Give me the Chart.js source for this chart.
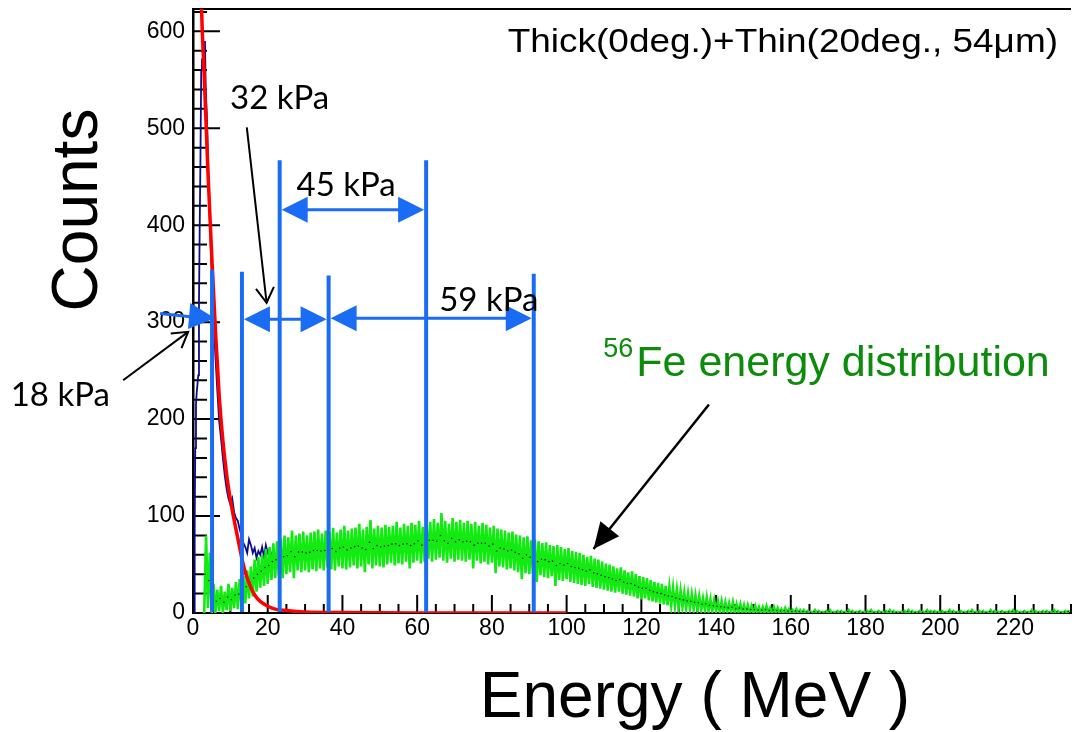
<!DOCTYPE html>
<html>
<head>
<meta charset="utf-8">
<title>Energy spectrum</title>
<script src="https://cdn.jsdelivr.net/npm/chart.js@4.4.1/dist/chart.umd.min.js"></script>
<style>
  body { margin: 0; background: #fff; }
  #wrap { width: 1075px; height: 732px; position: relative; }
</style>
</head>
<body>
<div id="wrap"><canvas id="spectrum"></canvas></div>
<script>
// axis ticks
var energyTicks = [0, 20, 40, 60, 80, 100, 120, 140, 160, 180, 200, 220];
var countTicks = [0, 100, 200, 300, 400, 500, 600];

// red fit curve
var fitEnergy = [1.9, 2.3, 3.0, 4.0, 5.0, 6.0, 7.0, 8.0, 9.0, 10.0, 11.0, 12.0, 13.0, 14.0, 15.0,
  16.0, 17.0, 18.0, 20.0, 22.0, 25.0, 30.0, 40.0, 60.0, 100.0];
var fitCounts = [700, 622, 555, 455, 370, 292, 225, 178, 143, 117, 96, 77, 58, 42, 31,
  22, 16, 12, 7, 4, 2.5, 1, 0.4, 0, 0];

// total spectrum (low energy part)
var totalEnergy = [0.3, 0.45, 0.6, 0.8, 1.0, 1.2, 1.4, 1.6, 1.8, 2.0, 2.2, 2.4, 2.6, 2.8, 3.0,
  3.2, 3.4, 3.7, 4.0, 4.5, 5.0, 5.5, 6.0, 6.5, 7.0, 7.5, 8.0, 8.5, 9.0, 9.5, 10.0, 10.5, 11.0,
  11.5, 12.0, 12.5, 13.0, 13.5, 14.0, 14.5, 15.0, 15.5, 16.0, 16.5, 17.0, 17.5, 18.0, 18.5,
  19.0, 19.5, 20.0, 20.5, 21.0];
var totalCounts = [0, 90, 170, 215, 228, 236, 245, 320, 400, 470, 560, 572, 568, 575, 560,
  590, 540, 515, 470, 405, 350, 300, 265, 230, 198, 180, 160, 142, 128, 118, 112, 118, 104,
  98, 95, 86, 80, 72, 68, 62, 76, 70, 62, 67, 57, 64, 60, 68, 58, 70, 62, 66, 60];

// 56Fe histogram, one bin per MeV from feStart, lower and upper edge of the error band
var feStart = 3;
var feLow = [
  0, 5, 0, 0, 2, 0, 3, 2, 5, 4,
  8, 10, 15, 17, 22, 26, 28, 30, 34, 36,
  38, 36, 40, 42, 36, 44, 42, 44, 42, 45,
  43, 46, 44, 47, 45, 44, 48, 46, 45, 47,
  49, 46, 48, 42, 50, 46, 49, 48, 47, 50,
  52, 49, 51, 50, 53, 46, 52, 54, 51, 53,
  56, 53, 55, 57, 54, 52, 56, 53, 55, 54,
  53, 55, 46, 54, 51, 53, 50, 52, 41, 48,
  47, 45, 46, 44, 42, 35, 41, 40, 41, 32,
  39, 37, 36, 38, 28, 34, 33, 35, 32, 31,
  30, 29, 28, 30, 27, 26, 25, 24, 23, 22,
  21, 22, 20, 19, 18, 17, 15, 14, 15, 13,
  12, 11, 10, 9, 8, 8, 7, 6, 6, 5,
  5, 4, 4, 3, 3, 2, 2, 2, 1, 1,
  1, 1, 0, 1, 0, 0, 0, 0, 0, 0,
  0, 0, 0, 0, 0, 0, 0, 0, 0, 0,
  0, 0, 0, 0, 0, 0, 0, 0, 0, 0,
  0, 0, 0, 0, 0, 0, 0, 0, 0, 0,
  0, 0, 0, 0, 0, 0, 0, 0, 0, 0,
  0, 0, 0, 0, 0, 0, 0, 0, 0, 0,
  0, 0, 0, 0, 0, 0, 0, 0, 0, 0,
  0, 0, 0, 0, 0, 0, 0, 0, 0, 0,
  0, 0, 0, 0, 0, 0, 0, 0, 0, 0,
  0, 0];
var feHigh = [
  80, 62, 30, 24, 28, 22, 30, 26, 32, 35,
  38, 44, 48, 55, 58, 60, 66, 68, 72, 74,
  76, 80, 78, 85, 80, 82, 84, 80, 83, 84,
  86, 82, 85, 84, 88, 83, 86, 90, 85, 87,
  88, 92, 86, 89, 96, 87, 90, 88, 91, 89,
  90, 94, 88, 92, 90, 93, 91, 95, 89, 92,
  94, 97, 93, 103, 95, 92, 98, 94, 96, 93,
  95, 92, 94, 90, 93, 91, 88, 90, 87, 86,
  85, 83, 84, 81, 80, 78, 79, 75, 76, 74,
  72, 73, 70, 69, 70, 68, 66, 67, 64, 63,
  62, 60, 58, 59, 56, 55, 53, 51, 50, 48,
  46, 47, 44, 42, 43, 40, 38, 37, 36, 34,
  32, 31, 30, 28, 27, 26, 24, 23, 21, 20,
  19, 18, 17, 15, 16, 14, 13, 12, 12, 11,
  10, 11, 9, 9, 8, 8, 7, 7, 6, 6,
  7, 5, 6, 5, 4, 5, 4, 3, 4, 3,
  3, 2, 1, 3, 2, 1, 2, 3, 1, 2,
  2, 1, 3, 2, 1, 2, 1, 2, 3, 1,
  2, 1, 2, 3, 2, 1, 1, 2, 3, 2,
  1, 2, 1, 3, 2, 2, 1, 2, 1, 3,
  2, 1, 2, 1, 2, 3, 1, 2, 2, 1,
  3, 2, 1, 2, 1, 2, 3, 2, 1, 2,
  1, 3, 2, 1, 2, 2, 1, 3, 2, 1,
  2, 3];

// range cuts (blue lines) and the pressure spans between them
var cutEnergy = [5.1, 13.1, 23.2, 36.3, 62.4, 91.2];
var cutTop = [354, 352, 467, 348, 467, 350];
var spanFrom = [23.2, 13.1, 36.3];
var spanTo = [62.4, 36.3, 91.2];
var spanLevel = [416, 303, 304];
var firstArrowFrom = [-8.8, 309];
var firstArrowTo = [5.9, 304];

// pressure labels
var labelText = ['32 kPa', '45 kPa', '59 kPa', '18 kPa'];
var labelEnergy = [9.9, 27.7, 65.9, -48.8];
var labelCounts = [520, 430, 312, 214];

// black pointers: [energy, counts] tail and tip
var pointerFrom = [[14.4, 501], [-18.7, 240], [138.1, 215]];
var pointerTo = [[19.7, 320], [-1.3, 290], [107.2, 66]];
var pointerFilled = [false, false, true];

var feLabelAt = [109.8, 244];

var BLUE = '#1a6cf4';

function xy(xs, ys) {
  return xs.map(function (e, i) { return { x: e, y: ys[i] }; });
}

var feBand = [];
var feCentre = [];
feLow.forEach(function (lo, i) {
  feBand.push({ x: feStart + i, y: lo });
  feBand.push({ x: feStart + i + 0.5, y: feHigh[i] });
  feCentre.push({ x: feStart + i + 0.25, y: (lo + feHigh[i]) / 2 });
});

function arrowHead(ctx, x1, y1, x2, y2, len, half, filled) {
  var a = Math.atan2(y2 - y1, x2 - x1);
  var bx = x2 - len * Math.cos(a), by = y2 - len * Math.sin(a);
  var px = -Math.sin(a) * half, py = Math.cos(a) * half;
  ctx.beginPath();
  if (filled) {
    ctx.moveTo(x2, y2);
    ctx.lineTo(bx + px, by + py);
    ctx.lineTo(bx - px, by - py);
    ctx.closePath();
    ctx.fill();
  } else {
    ctx.moveTo(bx + px, by + py);
    ctx.lineTo(x2, y2);
    ctx.lineTo(bx - px, by - py);
    ctx.stroke();
  }
}

var overlay = {
  id: 'overlay',
  beforeDatasetsDraw: function (chart) {
    var ctx = chart.ctx, a = chart.chartArea, x = chart.scales.x, y = chart.scales.y;
    ctx.save();
    ctx.strokeStyle = '#000';
    ctx.lineWidth = 2;
    ctx.beginPath();
    for (var e = 5; e <= 235; e += 5) {
      var px = x.getPixelForValue(e);
      ctx.moveTo(px, a.bottom);
      ctx.lineTo(px, a.bottom - (e % 20 === 0 ? 18 : 9));
    }
    for (var c = 20; c <= 620; c += 20) {
      var py = y.getPixelForValue(c);
      ctx.moveTo(a.left, py);
      ctx.lineTo(a.left + (c % 100 === 0 ? 27 : 14), py);
    }
    ctx.moveTo(a.left, a.top);
    ctx.lineTo(a.right, a.top);
    ctx.stroke();
    ctx.restore();
  },
  afterDatasetsDraw: function (chart) {
    var ctx = chart.ctx, a = chart.chartArea, x = chart.scales.x, y = chart.scales.y;
    ctx.save();

    // cut lines
    ctx.strokeStyle = BLUE;
    ctx.fillStyle = BLUE;
    ctx.lineWidth = 4;
    cutEnergy.forEach(function (e, i) {
      var px = x.getPixelForValue(e);
      ctx.beginPath();
      ctx.moveTo(px, y.getPixelForValue(cutTop[i]));
      ctx.lineTo(px, y.getPixelForValue(1));
      ctx.stroke();
    });

    // double arrows between cuts
    ctx.lineWidth = 3;
    spanFrom.forEach(function (e, i) {
      var x1 = x.getPixelForValue(e) + 2, x2 = x.getPixelForValue(spanTo[i]) - 2;
      var py = y.getPixelForValue(spanLevel[i]);
      ctx.beginPath();
      ctx.moveTo(x1 + 20, py);
      ctx.lineTo(x2 - 20, py);
      ctx.stroke();
      arrowHead(ctx, x2, py, x1, py, 26, 13, true);
      arrowHead(ctx, x1, py, x2, py, 26, 13, true);
    });
    var fx1 = x.getPixelForValue(firstArrowFrom[0]), fy1 = y.getPixelForValue(firstArrowFrom[1]);
    var fx2 = x.getPixelForValue(firstArrowTo[0]), fy2 = y.getPixelForValue(firstArrowTo[1]);
    ctx.beginPath();
    ctx.moveTo(fx1, fy1);
    ctx.lineTo(fx2 - 20, fy2 - 1);
    ctx.stroke();
    arrowHead(ctx, fx1, fy1, fx2, fy2, 26, 13, true);

    // black pointers
    ctx.strokeStyle = '#000';
    ctx.fillStyle = '#000';
    pointerFrom.forEach(function (p, i) {
      var x1 = x.getPixelForValue(p[0]), y1 = y.getPixelForValue(p[1]);
      var x2 = x.getPixelForValue(pointerTo[i][0]), y2 = y.getPixelForValue(pointerTo[i][1]);
      ctx.lineWidth = pointerFilled[i] ? 2.5 : 2;
      ctx.beginPath();
      ctx.moveTo(x1, y1);
      ctx.lineTo(x2, y2);
      ctx.stroke();
      if (pointerFilled[i]) arrowHead(ctx, x1, y1, x2, y2, 26, 12, true);
      else arrowHead(ctx, x1, y1, x2, y2, 15, 9, false);
    });

    // pressure labels
    ctx.font = "33px Lato";
    ctx.textAlign = 'left';
    ctx.textBaseline = 'alphabetic';
    labelText.forEach(function (t, i) {
      ctx.fillText(t, x.getPixelForValue(labelEnergy[i]), y.getPixelForValue(labelCounts[i]));
    });

    // 56Fe label
    var gx = x.getPixelForValue(feLabelAt[0]), gy = y.getPixelForValue(feLabelAt[1]);
    ctx.fillStyle = '#0b8c0b';
    ctx.font = "27px 'Liberation Sans'";
    ctx.fillText('56', gx, gy - 19);
    var sw = ctx.measureText('56').width + 3;
    ctx.font = "43px 'Liberation Sans'";
    ctx.fillText('Fe energy distribution', gx + sw, gy);

    // axis titles
    ctx.fillStyle = '#000';
    ctx.font = "64px 'Liberation Sans'";
    ctx.textAlign = 'center';
    ctx.fillText('Energy ( MeV )', a.left + 502, a.bottom + 104);
    ctx.save();
    ctx.translate(a.left - 96, a.top + 201);
    ctx.rotate(-Math.PI / 2);
    ctx.fillText('Counts', 0, 0);
    ctx.restore();

    // run title, slightly widened like the rest of the frame text
    ctx.font = "33px 'Liberation Sans'";
    ctx.textAlign = 'right';
    ctx.translate(a.right - 13, a.top + 43);
    ctx.scale(1.12, 1);
    ctx.fillText('Thick(0deg.)+Thin(20deg., 54\u03bcm)', 0, 0);

    ctx.restore();
  }
};

Chart.defaults.font.family = "'Liberation Sans', Arial, sans-serif";
Chart.defaults.color = '#000';

new Chart(document.getElementById('spectrum'), {
  type: 'line',
  data: {
    datasets: [{
      label: 'fit',
      data: xy(fitEnergy, fitCounts),
      borderColor: '#ff0000',
      borderWidth: 3.5,
      pointRadius: 0,
      cubicInterpolationMode: 'monotone'
    }, {
      label: 'Fe centre',
      data: feCentre,
      showLine: false,
      pointRadius: 0.8,
      pointBorderWidth: 0,
      pointBackgroundColor: '#1a1a1a'
    }, {
      label: '56Fe',
      data: feBand,
      borderColor: '#12ea12',
      borderWidth: 2.6,
      pointRadius: 0,
      tension: 0
    }, {
      label: 'total',
      data: xy(totalEnergy, totalCounts),
      borderColor: '#0c0c8a',
      borderWidth: 1.8,
      pointRadius: 0,
      tension: 0
    }]
  },
  options: {
    responsive: true,
    maintainAspectRatio: false,
    animation: false,
    events: [],
    layout: { padding: { top: 9, left: 0, right: 0, bottom: 0 } },
    plugins: { legend: { display: false }, tooltip: { enabled: false } },
    scales: {
      x: {
        type: 'linear',
        min: 0,
        max: 235,
        grid: { display: false, drawTicks: false },
        border: { color: '#000', width: 2 },
        ticks: { font: { size: 23 }, padding: 2, maxRotation: 0, autoSkip: false },
        afterBuildTicks: function (s) { s.ticks = energyTicks.map(function (v) { return { value: v }; }); },
        afterFit: function (s) { s.height = 119; s.paddingLeft = 0; s.paddingRight = 0; }
      },
      y: {
        min: 0,
        max: 623,
        grid: { display: false, drawTicks: false },
        border: { color: '#000', width: 2.5 },
        ticks: { font: { size: 23 }, padding: 8 },
        afterBuildTicks: function (s) { s.ticks = countTicks.map(function (v) { return { value: v }; }); },
        afterFit: function (s) { s.width = 193; s.paddingTop = 0; s.paddingBottom = 0; }
      }
    }
  },
  plugins: [overlay]
});
</script>
</body>
</html>
